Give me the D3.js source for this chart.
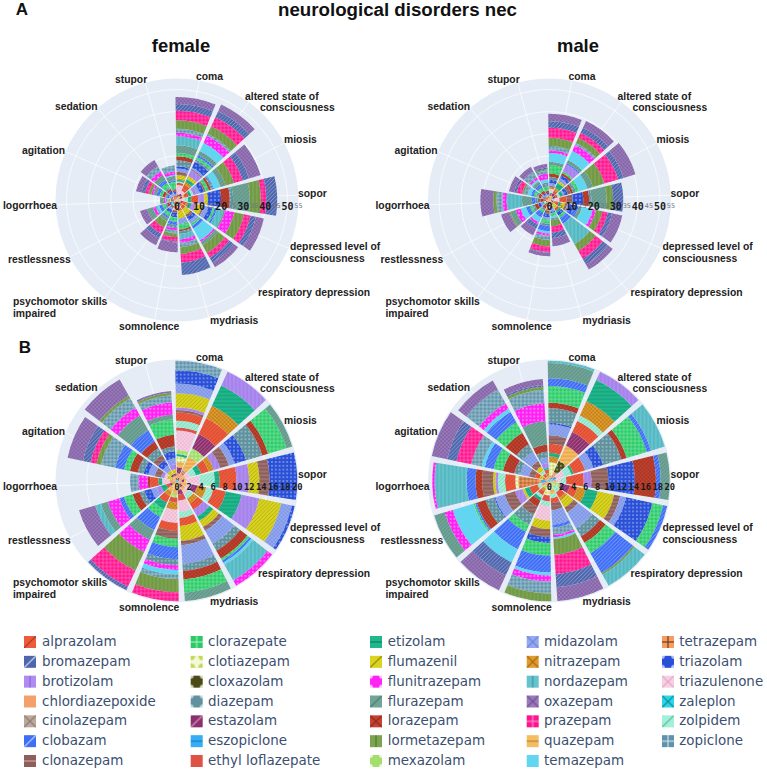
<!DOCTYPE html>
<html><head><meta charset="utf-8">
<script src="https://cdn.jsdelivr.net/npm/d3@7"></script>
<style>html,body{margin:0;padding:0;background:#fff}svg{display:block}</style>
</head><body><svg id="c" width="767" height="773"></svg>
<script>
const categories=['coma','altered state of\nconsciousness','miosis','sopor','depressed level of\nconsciousness','respiratory depression','mydriasis','somnolence','psychomotor skills\nimpaired','restlessness','logorrhoea','agitation','sedation','stupor'];
const drugCodes=['al','bm','br','cd','ci','cb','cn','cz','ct','cx','dz','es','ez','ef','et','fm','fn','fu','lo','lm','mx','md','ni','nd','ox','pz','qu','te','tt','tz','tu','za','zo','zc'];
const drugNames=['alprazolam','bromazepam','brotizolam','chlordiazepoxide','cinolazepam','clobazam','clonazepam','clorazepate','clotiazepam','cloxazolam','diazepam','estazolam','eszopiclone','ethyl loflazepate','etizolam','flumazenil','flunitrazepam','flurazepam','lorazepam','lormetazepam','mexazolam','midazolam','nitrazepam','nordazepam','oxazepam','prazepam','quazepam','temazepam','tetrazepam','triazolam','triazulenone','zaleplon','zolpidem','zopiclone'];
const drugFills=['#EF5A3C','#4F66AD','#AE8CF2','#F3A06C','#BDA89C','#3F6EF6','#8E5F5A','#2ACB66','#F4F8D8','#4A4A18','#5F929E','#8C2F6C','#35AEF5','#DF5347','#1FB88C','#DAD41E','#FF22F5','#6FA497','#C4422F','#7CA350','#A4DE6E','#93A9F2','#E39C2C','#63C4CE','#9A7ABA','#FF1490','#F5BC60','#62D6F0','#F79C60','#2A50D8','#F7CFE2','#2AD6E8','#A2F0D8','#5F93AC'];
const drugInks=['#a83a24','#c8d2f0','#8a66d0','#F3A06C','#8d7a70','#b8cbff','#c9a9a4','#9ff0bd','#C4D85A','#e6e6cf','#d2e0e4','#d09bc0','#1a7bb8','#DF5347','#0e7c5e','#8c8a10','#ffd6fb','#4a7a6e','#8a2a1c','#4f7a2e','#f2fbe6','#6e86d4','#a06a12','#3d929c','#6e4f90','#ff8ac6','#b8823a','#62D6F0','#6a3a18','#c4d0f6','#e4a8c8','#0f8a98','#5fb89c','#d0e2ea'];
const drugShapes=['/','/','|','','x','/','-','+','o','.','.','/','-','','-','/','.','/','x','|','.','x','x','|','x','+','-','','+','.','x','x','/','+'];

const fA_coma=['za',.3,'cd',.8,'tt',.4,'es',1,'qu',.5,'tu',3.8,'al',1,'zo',.6,'et',.8,'ni',.6,'fm',1.5,'cn',1.5,'md',1.5,'tz',1,'dz',2.7,'lo',1.8,'cz',1.5,'fu',3.5,'nd',4.1,'fn',1.5,'zc',1.8,'lm',3.9,'pz',4.3,'bm',3.1,'ox',3.1];
const fA_altered=['za',.3,'cd',.5,'qu',1.2,'es',1.2,'tu',1.5,'ef',1,'al',2,'ni',1.3,'et',1.5,'fm',1.5,'br',3,'cn',.5,'md',.7,'tz',3,'dz',1,'cz',1.3,'cb',1,'fu',2,'te',4,'fn',3.5,'zc',1,'lm',3.8,'pz',4.5,'bm',3,'ox',3.3];
const fA_miosis=['za',.3,'cd',.5,'ni',.8,'es',1,'qu',1,'al',2,'et',1.2,'zo',1,'br',1.5,'md',1.5,'tz',2,'cn',.8,'cz',1.5,'lo',1,'dz',1,'cb',.4,'te',3,'fu',2.5,'lm',4,'pz',4,'bm',3,'ox',5.5];
const fA_sopor=['za',.3,'ez',.3,'cd',.5,'qu',.8,'tu',1.6,'zo',1.5,'et',1.5,'al',3.2,'br',2.7,'fm',1.6,'tz',6,'lo',3.9,'dz',1.5,'fu',7.6,'lm',5,'pz',2.4,'bm',5];
const fA_depressed=['za',.3,'cd',.5,'mx',1,'es',1,'al',1.5,'ni',1,'et',1.5,'br',2,'fm',3,'cn',.7,'md',2,'tz',2,'cz',1,'cb',1,'nd',3,'fu',.8,'fn',4.2,'lm',4.5,'pz',3,'bm',2.5,'ox',3.7];
const fA_respiratory=['za',.3,'cd',.5,'qu',.7,'es',.8,'ni',1,'al',1.5,'fm',3,'cn',1.2,'tz',1.8,'md',1.7,'cz',1,'cb',1.5,'te',6,'fn',.8,'fu',1.7,'lm',4,'pz',2.5,'bm',2.5,'ox',2.5];
const fA_mydriasis=['za',.3,'cd',.6,'es',1,'qu',.6,'tu',1.5,'al',1,'fm',3.5,'md',2.5,'cz',2.5,'lo',.8,'dz',1.2,'nd',2.5,'fn',1.5,'zc',2,'lm',3,'pz',4,'bm',5.5];
const fA_somnolence=['za',.2,'cd',.5,'ef',1,'ni',1,'al',1,'tu',1,'cn',1.2,'tz',2,'cz',2,'cb',1.5,'dz',1.4,'fn',1,'zc',1.5,'lm',1.5,'pz',2,'bm',.4,'ox',4.5];
const fA_psychomotor=['za',.2,'cd',.5,'ni',.5,'al',.8,'et',.5,'zo',.6,'cn',1,'md',1,'tz',1.5,'cz',1.6,'cb',1,'fu',1.5,'lm',3,'pz',3.1,'bm',2.2,'ox',3.6];
const fA_restlessness=['za',.2,'cd',.4,'al',.6,'zo',.5,'et',.5,'md',.8,'tz',.8,'lo',1,'dz',1,'cz',1.2,'cb',1.5,'te',.7,'nd',1,'fn',1.3,'fu',2.7,'ox',3.3];
const fA_logorrhoea=['za',.2,'cd',.4,'tu',.6,'al',.8,'lo',.7,'zo',.5,'md',.5,'fm',.5,'zc',1,'fn',.8,'fu',1.7];
const fA_agitation=['za',.2,'cd',.5,'al',.8,'zo',.5,'cn',.8,'md',1,'tz',.8,'dz',1,'lo',1.2,'cz',1.3,'cb',1.5,'fu',1.4,'fn',.9,'lm',1.3,'pz',1.6,'bm',1.6,'ox',2.6];
const fA_sedation=['za',.3,'cd',.5,'ni',.6,'al',.8,'br',.5,'md',1,'tz',1.2,'lo',.9,'dz',1,'cz',2.2,'cb',1.5,'fu',2.5,'fn',2,'zc',2.5,'ox',3.3];
const fA_stupor=['za',.3,'cd',.4,'es',.5,'al',.8,'et',.4,'md',.6,'tz',.8,'lo',.7,'dz',.8,'cz',3,'cb',.7,'fu',2,'te',.5,'fn',1.5,'zc',2.8];

const mA_coma=['za',.2,'cd',.5,'cx',.4,'qu',.8,'al',1,'et',.5,'zo',.7,'tu',1,'ni',.6,'cn',.8,'md',1.2,'tz',1.5,'dz',1.3,'lo',1.5,'cz',3.8,'fu',1.5,'te',4,'fn',1.2,'zc',2,'lm',3.7,'pz',4.5,'bm',3,'ox',3.3];
const mA_altered=['za',.3,'cd',.5,'qu',1.2,'es',1.5,'al',1.3,'ni',1.2,'et',2.5,'fm',1,'md',1.5,'tz',1.5,'lo',1,'cz',.8,'br',3.5,'cb',.7,'fu',1.5,'te',4.5,'fn',3,'zc',1,'lm',2.5,'pz',2.5,'bm',2.5,'ox',3.4];
const mA_miosis=['za',.3,'cd',.5,'ni',.8,'es',1.4,'al',1,'zo',1,'et',1.5,'md',.7,'tz',1.5,'cn',1.5,'lo',1,'dz',1.3,'cz',1.5,'te',4,'fu',2.5,'lm',5.5,'pz',6.5,'bm',2.5,'ox',5.6];
const mA_sopor=['za',.3,'cd',.5,'ez',.5,'zo',1.2,'tu',2,'al',3.3,'cn',2.7,'tz',4.8,'lo',2.7,'dz',1,'fu',6.8,'lm',3,'bm',4.6];
const mA_depressed=['za',.3,'cd',.5,'es',1,'ni',1,'al',1.5,'et',1,'fm',2,'cn',1,'md',1.2,'tz',2,'cb',2,'fu',1.5,'te',5,'fn',1.5,'lm',3,'pz',2.5,'bm',2,'ox',4.7];
const mA_respiratory=['za',.3,'cd',.5,'qu',.8,'ni',.8,'fm',2,'al',1.2,'et',1,'tz',1.5,'cz',1.3,'cb',3,'nd',10.6,'lm',3.5,'pz',4,'bm',3,'ox',2.7];
const mA_mydriasis=['za',.3,'cd',.5,'qu',.7,'al',.8,'zo',.7,'cn',.8,'md',1.5,'tz',.7,'cz',1.4,'te',.8,'zc',1,'lm',2.8,'pz',2.8,'bm',2.5,'ox',3.7];
const mA_somnolence=['za',.3,'cd',.5,'ct',.8,'qu',.6,'ef',.8,'tu',1.2,'ni',.7,'cn',1.5,'tz',1.5,'md',1,'cz',1.8,'dz',1,'cb',2.5,'te',1,'fn',1,'zc',2,'lm',2.8,'pz',2.5,'bm',.4,'ox',1.6];
const mA_psychomotor=['za',.2,'cd',.6,'al',.6,'zo',.4,'et',.6,'cn',.8,'lo',1,'dz',1,'cz',1.2,'cb',2.4,'te',2.4,'fn',1,'bm',2.2,'ox',3.3];
const mA_restlessness=['za',.3,'cd',.8,'al',.8,'zo',.8,'et',.6,'md',1,'tz',1.2,'lo',1.5,'dz',1.2,'cz',1.2,'cb',1.8,'te',2.5,'fn',2.3,'fu',2.5,'lm',.5,'ox',3.9];
const mA_logorrhoea=['za',.4,'cd',1.2,'al',1,'lo',1.5,'cn',1.2,'dz',1.2,'cb',1.5,'fu',4.5,'nd',7,'fn',1.8,'zc',2.7,'lm',1.5,'ox',5.8];
const mA_agitation=['za',.3,'cd',.5,'al',1,'et',.5,'cn',.8,'md',.9,'lo',1.2,'dz',1,'cz',1.2,'cb',1.2,'te',1.6,'zc',1.8,'lm',.8,'pz',2.4,'bm',1.2,'ox',2.4];
const mA_sedation=['za',.3,'cd',.5,'al',.8,'ni',.5,'md',.9,'tz',.7,'lo',1.2,'cz',1.7,'cb',1.6,'fu',1.5,'te',1,'fn',1,'zc',3.1,'ox',2.5];
const mA_stupor=['za',.3,'cd',.5,'al',.8,'et',.4,'md',.6,'tz',.7,'lo',.9,'cz',2,'dz',1.8,'te',1.5,'fn',2.5,'zc',1.5,'lm',.5,'bm',.8,'ox',1.7];

const fB_coma=['za',.2,'cx',.2,'cd',.9,'es',1,'qu',.9,'ct',.9,'et',.4,'mx',.7,'tu',3.2,'ef',.5,'zo',1.1,'al',1.4,'cn',.4,'br',.4,'fm',2.4,'md',1.6,'tz',2.2,'zc',1.6];
const fB_altered=['za',.2,'cx',.4,'cd',.7,'tt',.4,'ci',.3,'qu',2.5,'mx',1.5,'es',2.6,'al',2.9,'ni',2.3,'et',3.7,'br',2.5];
const fB_miosis=['za',.2,'cx',.2,'cd',.6,'qu',.5,'tu',.8,'zo',1,'et',.9,'al',1.3,'ni',.9,'br',1.1,'cn',1.5,'md',1,'tz',2,'dz',2.8,'lo',1,'cz',3.2,'fu',1];
const fB_sopor=['za',.2,'ez',.2,'cd',.4,'es',.4,'qu',.4,'tu',2.2,'zo',2.5,'et',.8,'al',2.8,'br',2.1,'fm',1.7,'cn',1.7,'tz',4.6];
const fB_depressed=['za',.2,'cd',.6,'qu',.9,'tu',.8,'es',1,'ni',1.5,'zo',1.2,'al',2.1,'et',2.7,'br',3,'fm',3.7,'md',1.8,'tz',.5];
const fB_respiratory=['za',.2,'cd',.5,'es',.5,'qu',.6,'tu',.7,'zo',.9,'ni',.9,'al',1.2,'br',1.3,'et',.8,'fm',1.2,'cn',.7,'md',2.5,'dz',1.3,'lo',1.5,'cz',.4,'cb',.4,'te',.4,'nd',3,'fn',1];
const fB_mydriasis=['za',.2,'cd',.6,'qu',.7,'es',.8,'ef',1,'tu',1.9,'zo',1,'al',1.3,'fm',2.5,'cn',.7,'md',3.1,'dz',1.2,'lo',1.4,'cz',2.2,'fu',1.4];
const fB_somnolence=['za',.2,'ez',.2,'ct',.9,'qu',.9,'mx',.6,'ef',.8,'ni',1.2,'tu',2.2,'al',1.3,'cn',1.3,'cz',1.4,'cb',2,'dz',1,'fn',.8,'te',.7,'zc',.8,'lm',2.2,'pz',1.5];
const fB_psychomotor=['za',.2,'cd',.5,'ct',.5,'qu',.8,'ni',.8,'al',1.2,'et',1.2,'cz',1.4,'cb',2.4,'fu',1.8,'fn',2.2,'lm',3.4,'pz',3,'bm',.6];
const fB_restlessness=['za',.2,'cd',.3,'ni',.4,'es',.4,'al',.6,'et',.9,'br',.8,'md',.9,'tz',1.2,'dz',.8,'lo',1.2,'cz',1.5,'cb',.8,'fn',2,'fu',1.2,'nd',1,'ox',2.8];
const fB_logorrhoea=['za',.2,'ez',.2,'cd',.8,'tu',1.3,'et',.6,'al',1.4,'lo',.4,'fn',1.5,'zc',1.4];
const fB_agitation=['za',.2,'cd',.4,'qu',.4,'fm',.7,'tu',.5,'br',.5,'cn',1.1,'md',1.1,'tz',.8,'dz',1,'lo',1.3,'cz',1,'cb',1.5,'zc',2.4,'lm',.8,'pz',1,'bm',1.3,'ox',2.6];
const fB_sedation=['za',.2,'cd',.4,'qu',.3,'es',.4,'fm',.7,'md',1,'tz',1,'cn',1,'dz',1.3,'lo',1.2,'cb',2.2,'fu',2.8,'fn',1.5,'zc',1.8,'lm',.5,'ox',3.1];
const fB_stupor=['za',.2,'cx',.3,'cd',.4,'es',.4,'fm',.7,'br',.8,'md',1,'tz',1.2,'dz',.8,'lo',1.9,'cz',2.6,'fu',.8,'fn',2,'zc',1.2,'lm',.4,'ox',.3];

const mB_coma=['za',.2,'ez',.3,'cd',.5,'ct',2.1,'ni',1,'et',.6,'al',1.5,'cn',1.4,'md',1.8,'tz',.3,'dz',2.4,'lo',.9,'cz',2.8,'cb',1.3,'fu',2.5,'nd',.4];
const mB_altered=['za',.4,'ez',.3,'tt',.4,'cd',.6,'cx',2,'qu',2.8,'es',2.5,'al',2,'zo',1,'ni',2.6,'et',3.9,'br',1.5];
const mB_miosis=['za',.2,'cd',.4,'ez',.6,'tu',1.4,'zo',1.2,'et',.4,'al',2,'md',1.4,'tz',1.7,'dz',3.2,'lo',.9,'cz',3.5,'cb',.7,'nd',2.4];
const mB_sopor=['za',.3,'ez',.3,'cd',.5,'tu',.8,'zo',.9,'al',2.9,'br',1.3,'cn',2.8,'tz',4.4,'lo',3.5,'cb',.8,'fu',1.5];
const mB_depressed=['za',.2,'cd',.4,'mx',1.3,'es',1.6,'al',1.3,'ni',1.4,'et',2,'fm',2.8,'cn',1,'md',1,'tz',4.5,'cz',1.8,'cb',.7];
const mB_respiratory=['za',.2,'cd',.4,'mx',.7,'zo',.9,'al',1,'ni',.5,'fm',1.4,'cn',.9,'md',3,'dz',1.6,'lo',1.2,'cz',2,'cb',3.8,'lm',.3,'nd',2.1];
const mB_mydriasis=['za',.2,'cd',.5,'ct',.8,'qu',.7,'zo',.7,'al',.8,'cn',1.2,'md',2.4,'cb',.5,'zc',1.2,'fn',.4,'te',.3,'lm',2.6,'pz',3.2,'bm',2.2,'ox',2.3];
const mB_somnolence=['za',.2,'cd',.4,'ct',1.8,'ef',1,'zo',.8,'tu',2.4,'fm',1.4,'cn',1.3,'tz',1,'cz',2.1,'cb',2.8,'te',.5,'fn',1,'zc',2,'lm',1.3];
const mB_psychomotor=['za',.2,'cd',.7,'mx',.5,'ni',.5,'al',.7,'zo',.5,'et',.5,'lo',1.1,'cn',1.5,'dz',1.8,'cz',1.3,'cb',3.2,'te',2.4,'bm',2.4,'ox',2.7];
const mB_restlessness=['za',.2,'cd',1.2,'zo',.7,'al',1.4,'et',.8,'fm',.4,'br',1.3,'cn',1.8,'md',1.6,'tz',.2,'dz',1.5,'lo',1.5,'cb',.3,'cz',.3,'te',3.6,'fn',1.4,'fu',1.8];
const mB_logorrhoea=['za',.5,'ez',.9,'cd',.3,'tt',3.5,'ct',.5,'al',1.7,'zo',1.2,'br',.4,'fm',.4,'cn',1.8,'lo',1.1,'cb',1.5,'nd',5.3,'fn',.4];
const mB_agitation=['za',.3,'cd',.5,'ni',.4,'fm',.5,'al',.8,'cn',1,'md',1.5,'dz',1,'lo',1.9,'cz',1.6,'cb',1.5,'te',.5,'zc',1.8,'pz',2.5,'bm',1.6,'ox',2.6];
const mB_sedation=['za',.3,'cd',.5,'al',.6,'zo',.6,'fm',.8,'cn',1,'md',1.8,'dz',1.4,'lo',2.2,'cz',2,'cb',2,'te',.6,'fn',1,'zc',2.7,'ox',1.7];
const mB_stupor=['za',.3,'cd',.5,'ni',.5,'al',.6,'et',.3,'br',.8,'md',.9,'dz',1,'lo',1.2,'fu',3.9,'fn',3,'zc',2.2,'lm',.5,'bm',.3,'ox',1];

const panels=[
 {id:'fA',cx:177,cy:200,max:55,major:d3.range(0,51,10),minor:d3.range(5,56,10),tickSize:10,stacks:[fA_coma,fA_altered,fA_miosis,fA_sopor,fA_depressed,fA_respiratory,fA_mydriasis,fA_somnolence,fA_psychomotor,fA_restlessness,fA_logorrhoea,fA_agitation,fA_sedation,fA_stupor]},
 {id:'mA',cx:549.5,cy:200,max:55,major:d3.range(0,51,10),minor:d3.range(5,56,10),tickSize:10,stacks:[mA_coma,mA_altered,mA_miosis,mA_sopor,mA_depressed,mA_respiratory,mA_mydriasis,mA_somnolence,mA_psychomotor,mA_restlessness,mA_logorrhoea,mA_agitation,mA_sedation,mA_stupor]},
 {id:'fB',cx:177,cy:481,max:20.2,major:d3.range(0,21,2),minor:[],tickSize:8.8,stacks:[fB_coma,fB_altered,fB_miosis,fB_sopor,fB_depressed,fB_respiratory,fB_mydriasis,fB_somnolence,fB_psychomotor,fB_restlessness,fB_logorrhoea,fB_agitation,fB_sedation,fB_stupor]},
 {id:'mB',cx:549.5,cy:481,max:20.2,major:d3.range(0,21,2),minor:[],tickSize:8.8,stacks:[mB_coma,mB_altered,mB_miosis,mB_sopor,mB_depressed,mB_respiratory,mB_mydriasis,mB_somnolence,mB_psychomotor,mB_restlessness,mB_logorrhoea,mB_agitation,mB_sedation,mB_stupor]}
];

/* label placement relative to a panel's centre: [dx,dy] per line, left edge and middle height */
const labelSpots=[[[19,-123]],[[68,-103],[83,-92]],[[107,-60]],[[121,-6]],[[113,47],[113,59]],[[81,93]],[[33,121]],[[-58,127]],[[-164,102],[-164,114]],[[-169,60]],[[-174,6]],[[-155,-49]],[[-122,-93]],[[-62,-120]]];

const svg=d3.select('#c');
const defs=svg.append('defs');
function addPattern(id,i,s,sw,op,swatch){
  const p=defs.append('pattern').attr('id',id);
  if(swatch){p.attr('patternUnits','objectBoundingBox').attr('width',1).attr('height',1);}
  else{p.attr('patternUnits','userSpaceOnUse').attr('width',s).attr('height',s);}
  p.append('rect').attr('width',s).attr('height',s).attr('fill',drugFills[i]);
  const ink=drugInks[i],k=drugShapes[i];
  const ln=(a,b,c,d)=>p.append('line').attr('x1',a).attr('y1',b).attr('x2',c).attr('y2',d).attr('stroke',ink).attr('stroke-width',sw).attr('stroke-opacity',op);
  if(k==='/'||k==='x'){ln(0,s,s,0);}
  if(k==='x'){ln(0,0,s,s);}
  if(k==='-'||k==='+'){ln(0,s/2,s,s/2);}
  if(k==='|'||k==='+'){ln(s/2,0,s/2,s);}
  if(k==='.'||k==='o'){const big=k==='o';[[0,0],[s,0],[0,s],[s,s]].forEach(c=>p.append('circle').attr('cx',c[0]).attr('cy',c[1]).attr('r',s*(big?.38:.24)).attr('fill',ink).attr('fill-opacity',big?1:op));}
}
drugCodes.forEach((c,i)=>{addPattern('c-'+c,i,3.8,.8,.62,false);addPattern('l-'+c,i,12,1.3,.9,true);});

const angle=d3.scaleBand().domain(d3.range(categories.length)).range([0,2*Math.PI]).paddingInner(0).paddingOuter(0);
const rotate=-2.3*Math.PI/180, span=angle.bandwidth()*.887;
const R=121.5;
const arc=d3.arc();

panels.forEach(P=>{
  const r=d3.scaleLinear().domain([0,P.max]).range([0,R]);
  const g=svg.append('g').attr('transform',`translate(${P.cx},${P.cy})`);
  g.append('circle').attr('r',R).attr('fill','#E5ECF6');
  const grid=P.id.endsWith('A')?d3.range(10,51,10):d3.range(5,20,5);
  g.selectAll('.ring').data(grid).join('circle').attr('r',d=>r(d)).attr('fill','none').attr('stroke','#fff').attr('stroke-width',.7);
  categories.forEach((c,i)=>{
    const a=angle(i)+angle.bandwidth()/2+rotate;
    g.append('line').attr('x2',R*Math.sin(a)).attr('y2',-R*Math.cos(a)).attr('stroke','#fff').attr('stroke-width',.7);
  });
  P.stacks.forEach((flat,i)=>{
    const codes=flat.filter((v,j)=>j%2===0), vals=flat.filter((v,j)=>j%2===1);
    const cum=[0,...d3.cumsum(vals)];
    const mid=angle(i)+angle.bandwidth()/2+rotate;
    const seg=codes.map((c,k)=>({c,y0:cum[k],y1:cum[k+1]}));
    g.append('g').selectAll('path').data(seg).join('path')
      .attr('d',d=>arc({innerRadius:r(d.y0),outerRadius:r(d.y1),startAngle:mid-span/2,endAngle:mid+span/2}))
      .attr('fill',d=>`url(#c-${d.c})`);
  });
  const tg=g.append('g').attr('text-anchor','middle');
  tg.selectAll('.mn').data(P.minor).join('text').attr('x',d=>r(d)).attr('y',6.5).attr('dominant-baseline','middle')
    .attr('font-family','"DejaVu Sans",sans-serif').attr('font-size',6.5).attr('fill','#6f7680').text(d=>d);
  tg.selectAll('.mj').data(P.major).join('text').attr('x',d=>r(d)).attr('y',6.5).attr('dominant-baseline','middle')
    .attr('font-family','"DejaVu Sans Mono",monospace').attr('font-weight','bold').attr('font-size',P.tickSize).attr('fill','#1a1a1a').text(d=>d);
  categories.forEach((c,i)=>{
    c.split('\n').forEach((line,k)=>{
      const s=labelSpots[i][k];
      g.append('text').attr('x',s[0]).attr('y',s[1]).attr('dominant-baseline','middle')
       .attr('font-family','"Liberation Sans",Arial,sans-serif').attr('font-weight','bold').attr('font-size',10.35).attr('fill','#222').text(line);
    });
  });
});

const titleFont='"Liberation Sans",Arial,sans-serif';
function head(t,x,y,sz,anchor){svg.append('text').attr('x',x).attr('y',y).attr('text-anchor',anchor).attr('dominant-baseline','middle').attr('font-family',titleFont).attr('font-weight','bold').attr('font-size',sz).attr('fill','#111').text(t);}
head('neurological disorders nec',397.5,11.5,18.7,'middle');
head('A',22,11,17,'middle');head('B',25,349,17,'middle');
head('female',181,47,18.4,'middle');head('male',578,47,18.4,'middle');

const legendColumns=[[24,42],[190.7,208],[370,387.7],[526.7,544],[662,679.3]];
const legendCounts=[7,7,7,7,6];
const rowY=d3.scaleLinear().domain([0,6]).range([642,761]);
let idx=0;
legendCounts.forEach((n,col)=>{
  for(let j=0;j<n;j++,idx++){
    const y=rowY(j);
    svg.append('rect').attr('x',legendColumns[col][0]).attr('y',y-6).attr('width',12).attr('height',12).attr('fill',`url(#l-${drugCodes[idx]})`);
    svg.append('text').attr('x',legendColumns[col][1]).attr('y',y).attr('dominant-baseline','middle')
      .attr('font-family','"DejaVu Sans",sans-serif').attr('font-size',13.45).attr('fill','#3b4f70').text(drugNames[idx]);
  }
});
</script></body></html>
